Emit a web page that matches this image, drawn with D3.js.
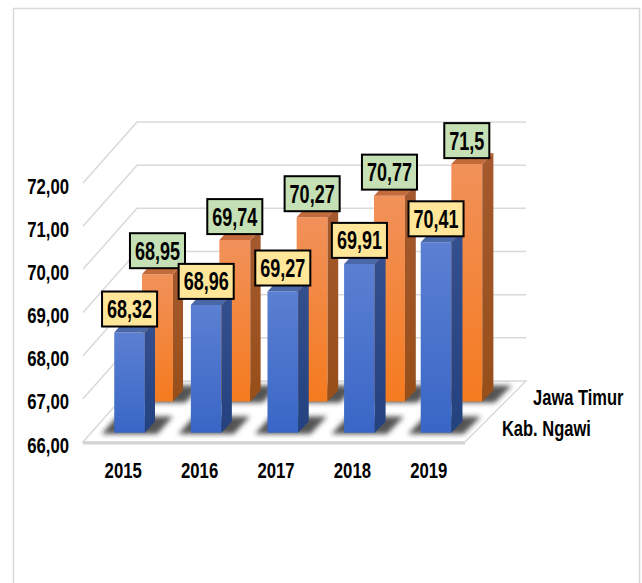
<!DOCTYPE html>
<html>
<head>
<meta charset="utf-8">
<script src="https://cdn.jsdelivr.net/npm/d3@7"></script>
<style>
  body { margin: 0; background: #fff; }
  text { font-family: "Liberation Sans Narrow", "Arial Narrow", "Liberation Sans", Arial, sans-serif; font-weight: bold; }
</style>
</head>
<body>
<div id="chart"></div>
<script>
// data
var years = ["2015", "2016", "2017", "2018", "2019"];
var ngawi = [68.32, 68.96, 69.27, 69.91, 70.41];   // Kab. Ngawi (front row)
var jatim = [68.95, 69.74, 70.27, 70.77, 71.5];    // Jawa Timur (back row)
var seriesNames = ["Kab. Ngawi", "Jawa Timur"];
var yTicks = [66, 67, 68, 69, 70, 71, 72];

var svgWidth = 642;
var svgHeight = 583;

var svg = d3.select("#chart")
    .append("svg")
    .attr("width", svgWidth)
    .attr("height", svgHeight);

// floor / wall geometry (oblique view)
var front = { left: 83, right: 465 };
var back = { left: 137, right: 526 };
var depthDy = -61;

var yScale = d3.scaleLinear().domain([66, 72]).range([442, 183]);
var uScale = d3.scaleBand().domain(years).range([0, 1]).paddingInner(0.6).paddingOuter(0.3);
var rowScale = d3.scaleBand().domain(seriesNames).range([0, 1]).paddingInner(0.64).paddingOuter(0.3);

// project horizontal fraction u, value v, depth z (0 front .. 1 back)
function proj(u, v, z) {
    var xl = front.left + (back.left - front.left) * z;
    var xr = front.right + (back.right - front.right) * z;
    return [xl + u * (xr - xl), yScale(v) + depthDy * z];
}
function poly(pts) { return pts.map(p => p.join(",")).join(" "); }

// squeeze text to look like a narrow face
function narrow(sel, k) {
    k = k || 0.76;
    sel.each(function() {
        var w = this.getComputedTextLength();
        d3.select(this).attr("textLength", w * k).attr("lengthAdjust", "spacingAndGlyphs");
    });
}

var defs = svg.append("defs");
function grad(id, c1, c2) {
    var g = defs.append("linearGradient").attr("id", id)
        .attr("x1", 0).attr("y1", 0).attr("x2", 0).attr("y2", 1);
    g.append("stop").attr("offset", "0%").attr("stop-color", c1);
    g.append("stop").attr("offset", "100%").attr("stop-color", c2);
}
grad("blueFront", "#5b80d2", "#3966c6");
grad("blueSide", "#344f8e", "#24427f");
grad("orFront", "#f1915a", "#f57b1f");
grad("orSide", "#a5592e", "#974f19");
defs.append("filter").attr("id", "blur")
    .attr("x", "-50%").attr("y", "-50%").attr("width", "200%").attr("height", "200%")
    .append("feGaussianBlur").attr("stdDeviation", 2.5);

// chart frame
svg.append("rect")
    .attr("x", 13.5).attr("y", 8.5)
    .attr("width", 626).attr("height", 620)
    .attr("fill", "#fff")
    .attr("stroke", "#d9d9d9")
    .attr("stroke-width", 1.5);

// floor
svg.append("polygon")
    .attr("points", poly([proj(0, 66, 0), proj(1, 66, 0), proj(1, 66, 1), proj(0, 66, 1)]))
    .attr("fill", "#fff")
    .attr("stroke", "#d9d9d9")
    .attr("stroke-width", 1.5);
svg.append("line")
    .attr("x1", proj(0, 66, 0)[0]).attr("y1", proj(0, 66, 0)[1] + 1)
    .attr("x2", proj(1, 66, 0)[0]).attr("y2", proj(1, 66, 0)[1] + 1)
    .attr("stroke", "#d4d4d4").attr("stroke-width", 3);

// gridlines: left wall + back wall
var grid = svg.append("g").attr("fill", "none").attr("stroke", "#d9d9d9").attr("stroke-width", 1.5);
yTicks.slice(1).forEach(v => {
    grid.append("polyline")
        .attr("points", poly([proj(0, v, 0), proj(0, v, 1), proj(1, v, 1)]));
});

// value axis labels
var fmt = d3.formatLocale({ decimal: ",", thousands: ".", grouping: [3], currency: ["", ""] }).format(".2f");
var yAxis = d3.axisLeft(yScale).tickValues(yTicks).tickSize(0).tickPadding(14).tickFormat(fmt);
svg.append("g")
    .attr("transform", "translate(" + front.left + ",3)")
    .call(yAxis)
    .call(g => g.select(".domain").remove())
    .selectAll("text")
    .attr("font-size", 22)
    .attr("font-family", null)
    .attr("fill", "#000")
    .call(narrow);

// category labels
var xAxis = d3.axisBottom(d3.scaleBand().domain(years).range([front.left + 2, front.right + 2]))
    .tickSize(0).tickPadding(0);
svg.append("g")
    .attr("transform", "translate(0,462)")
    .call(xAxis)
    .call(g => g.select(".domain").remove())
    .selectAll("text")
    .attr("font-size", 22)
    .attr("font-family", null)
    .attr("fill", "#000")
    .call(narrow);

// series (depth) labels, squeezed with a transform so the box stays true
seriesNames.forEach(name => {
    var z = rowScale(name) + rowScale.bandwidth() / 2;
    var p = proj(1, 66, z);
    svg.append("g")
        .attr("transform", "translate(" + (p[0] + 22) + "," + (p[1] + 1) + ") scale(0.75,1)")
        .append("text")
        .attr("dy", "0.35em")
        .attr("font-size", 22)
        .text(name);
});

// bars
function drawRow(values, name, frontFill, sideFill, topFill) {
    var z0 = rowScale(name);
    var z1 = z0 + rowScale.bandwidth();
    var g = svg.append("g");
    values.forEach((v, i) => {
        var u0 = uScale(years[i]);
        var u1 = u0 + uScale.bandwidth();
        // soft shadow on the floor
        g.append("polygon")
            .attr("points", poly([proj(u0 - 0.03, 66, z0 - 0.02), proj(u1 + 0.035, 66, z0 - 0.02),
                                  proj(u1 + 0.035, 66, z1 + 0.08), proj(u0 - 0.03, 66, z1 + 0.08)]))
            .attr("fill", "#1a1a1a")
            .attr("opacity", 0.75)
            .attr("filter", "url(#blur)");
        g.append("polygon")
            .attr("points", poly([proj(u0, 66, z0), proj(u1, 66, z0), proj(u1, v, z0), proj(u0, v, z0)]))
            .attr("fill", frontFill);
        g.append("polygon")
            .attr("points", poly([proj(u1, 66, z0), proj(u1, 66, z1), proj(u1, v, z1), proj(u1, v, z0)]))
            .attr("fill", sideFill);
        g.append("polygon")
            .attr("points", poly([proj(u0, v, z0), proj(u1, v, z0), proj(u1, v, z1), proj(u0, v, z1)]))
            .attr("fill", topFill);
    });
}
drawRow(jatim, "Jawa Timur", "url(#orFront)", "url(#orSide)", "#c46b3c");
drawRow(ngawi, "Kab. Ngawi", "url(#blueFront)", "url(#blueSide)", "#4a67a8");

// data labels
function drawLabels(values, name, boxFill) {
    var z0 = rowScale(name);
    values.forEach((v, i) => {
        var u = uScale(years[i]) + uScale.bandwidth() / 2;
        var p = proj(u, v, z0);
        var lg = svg.append("g");
        var t = lg.append("text")
            .attr("x", p[0])
            .attr("y", p[1] - 6 - 17.5)
            .attr("dy", "0.36em")
            .attr("text-anchor", "middle")
            .attr("font-size", 25)
            .text(String(v).replace(".", ","));
        var w = t.node().getComputedTextLength() * 0.72 + 10;
        t.call(narrow, 0.72);
        lg.insert("rect", "text")
            .attr("x", p[0] - w / 2)
            .attr("y", p[1] - 6 - 35)
            .attr("width", w)
            .attr("height", 35)
            .attr("fill", boxFill)
            .attr("stroke", "#000")
            .attr("stroke-width", 2);
    });
}
drawLabels(jatim, "Jawa Timur", "#c5e0b4");
drawLabels(ngawi, "Kab. Ngawi", "#ffe699");
</script>
</body>
</html>
